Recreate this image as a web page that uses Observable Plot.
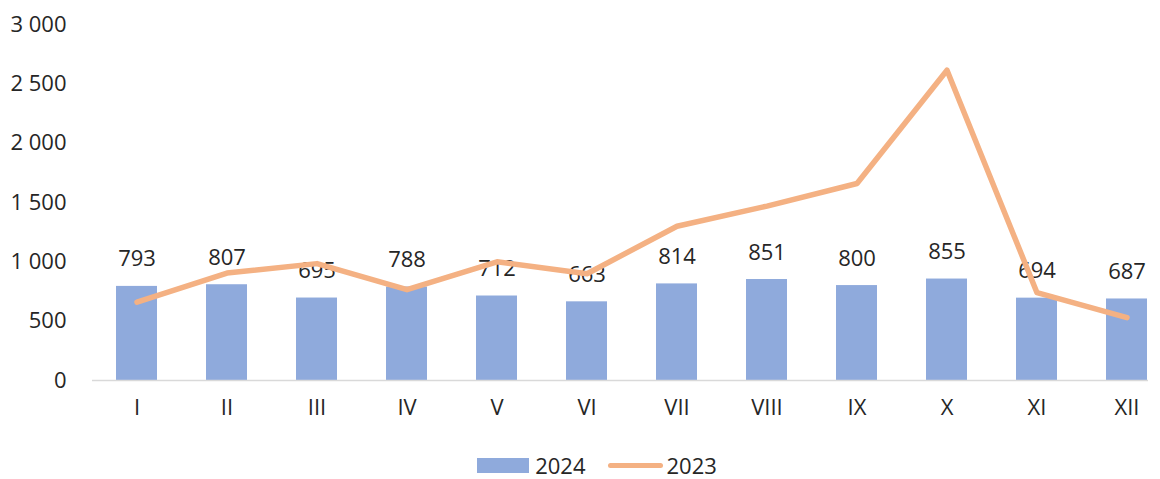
<!DOCTYPE html>
<html>
<head>
<meta charset="utf-8">
<script src="https://cdn.jsdelivr.net/npm/d3@7"></script>
<script src="https://cdn.jsdelivr.net/npm/@observablehq/plot@0.6"></script>
<style>
  html, body { margin: 0; padding: 0; background: #fff; overflow: hidden; }
  #wrap { position: relative; width: 1160px; height: 479px; font-family: "Open Sans", sans-serif; }
  #legend { position: absolute; left: 0; top: 452px; width: 1160px; height: 26px; line-height: 26px; display: flex; justify-content: center; align-items: center; font-size: 22px; color: #262626; padding-left: 34px; box-sizing: border-box; }
  .sw { display: inline-block; }
</style>
</head>
<body>
<div id="wrap">
  <div id="chart"></div>
  <div id="legend">
    <span class="sw" style="width:52px;height:15px;background:#8FAADC;margin-right:6px;"></span><span>2024</span>
    <span class="sw" style="width:55px;height:5px;border-radius:3px;background:#F4B183;margin-left:22px;margin-right:4px;"></span><span>2023</span>
  </div>
</div>
<script>
const months = ["I","II","III","IV","V","VI","VII","VIII","IX","X","XI","XII"];
const values2024 = [793, 807, 695, 788, 712, 663, 814, 851, 800, 855, 694, 687];
const values2023 = [660, 905, 985, 765, 1000, 900, 1300, 1470, 1660, 2615, 740, 530];
const yTicks = [0, 500, 1000, 1500, 2000, 2500, 3000];

const bars = months.map((m, i) => ({month: m, value: values2024[i]}));
const line = months.map((m, i) => ({month: m, value: values2023[i]}));
const fmt = v => d3.format(",")(v).replace(/,/g, " ");

const chart = Plot.plot({
  width: 1160,
  height: 452,
  marginLeft: 92,
  marginRight: 12,
  marginTop: 24,
  marginBottom: 72,
  style: {fontFamily: "'Open Sans', sans-serif", fontSize: "22px", color: "#262626", background: "#fff", overflow: "visible"},
  x: {domain: months, range: [92, 1172], paddingInner: 0.54, paddingOuter: 0.27, label: null},
  y: {domain: [0, 3000], label: null},
  marks: [
    Plot.barY(bars, {x: "month", y: "value", fill: "#8FAADC"}),
    Plot.ruleY([0], {stroke: "#D9D9D9", strokeWidth: 1.5}),
    Plot.text(bars, {x: "month", y: "value", text: d => String(d.value), dy: -27, fontSize: 22, fill: "#262626"}),
    Plot.line(line, {x: "month", y: "value", stroke: "#F4B183", strokeWidth: 5.5, strokeLinecap: "round", strokeLinejoin: "round"}),
    Plot.axisY({ticks: yTicks, tickFormat: fmt, tickSize: 0, tickPadding: 26, fontSize: 22}),
    Plot.axisX({tickSize: 0, tickPadding: 19, fontSize: 22})
  ]
});
document.getElementById("chart").appendChild(chart);
</script>
</body>
</html>
